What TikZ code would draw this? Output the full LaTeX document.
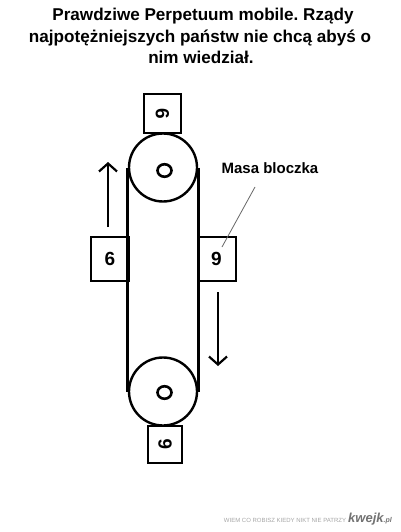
\documentclass[tikz,border=0pt]{standalone}
\usepackage{fontspec}
\setmainfont{Liberation Sans}
\usetikzlibrary{arrows.meta,shapes.geometric}
\frenchspacing
\begin{document}
\begin{tikzpicture}[x=1pt,y=-1pt,
  box/.style={draw, line width=2pt, inner sep=0pt, font=\bfseries\fontsize{19}{19}\selectfont},
  pulley/.style={draw, circle, line width=2.4pt, minimum size=68pt, inner sep=0pt},
  hub/.style={draw, ellipse, line width=2.6pt, minimum width=14pt, minimum height=12.5pt, inner sep=0pt},
  belt/.style={line width=2.8pt},
  mvarrow/.style={line width=2.4pt, -{Straight Barb[length=8pt,width=18pt,line width=2.2pt]}},
  ttl/.style={font=\bfseries\fontsize{17.1}{20}\selectfont, anchor=base},
  lbl/.style={font=\bfseries\fontsize{15}{18}\selectfont, anchor=base}]
\useasboundingbox[fill=white] (0,0) rectangle (400,532);
% title
\node[ttl] (t1) at (203,21) {Prawdziwe Perpetuum mobile.\ Rządy};
\node[ttl] (t2) at (200,43) {najpotężniejszych państw nie chcą abyś o};
\node[ttl] (t3) at (201,64) {nim wiedział.};
% pulleys
\node[pulley] (ptop) at (163,167.5) {};
\node[pulley] (pbot) at (163,391.5) {};
\node[hub] (htop) at (164.5,170.5) {};
\node[hub] (hbot) at (164.5,392.5) {};
% belt
\draw[belt] (ptop.west) -- (pbot.west);
\draw[belt] (ptop.east) -- (pbot.east);
% boxes
\node[box, minimum width=38pt, minimum height=44pt] (bl) at (110,259) {6};
\node[box, minimum width=38pt, minimum height=44pt] (br) at (216.5,259) {9};
\node[box, minimum width=37pt, minimum height=39pt] (btop) at (162.5,113.5) {\rotatebox{-90}{6}};
\node[box, minimum width=34pt, minimum height=37pt] (bbot) at (165,444.5) {\rotatebox{90}{6}};
% arrows
\coordinate (ua1) at (108,227);
\coordinate (ua2) at (108,162);
\coordinate (da1) at (218,292);
\coordinate (da2) at (218,366);
\draw[mvarrow] (ua1) -- (ua2);
\draw[mvarrow] (da1) -- (da2);
% label
\node[lbl] (masa) at (270,173) {Masa bloczka};
\coordinate (m1) at (255,187);
\coordinate (m2) at (222,247);
\draw[gray!80!black, line width=0.8pt] (m1) -- (m2);
% watermark
\node[font=\fontsize{6}{7}\selectfont, text=gray!70, anchor=base] (wm) at (285,522) {WIEM CO ROBISZ KIEDY NIKT NIE PATRZY};
\node[font=\bfseries\itshape\fontsize{13}{14}\selectfont, text=gray!90!black, anchor=base west, inner sep=0pt] (kw) at (348,522) {kwejk\fontsize{7}{8}\selectfont.pl};
\end{tikzpicture}
\end{document}
